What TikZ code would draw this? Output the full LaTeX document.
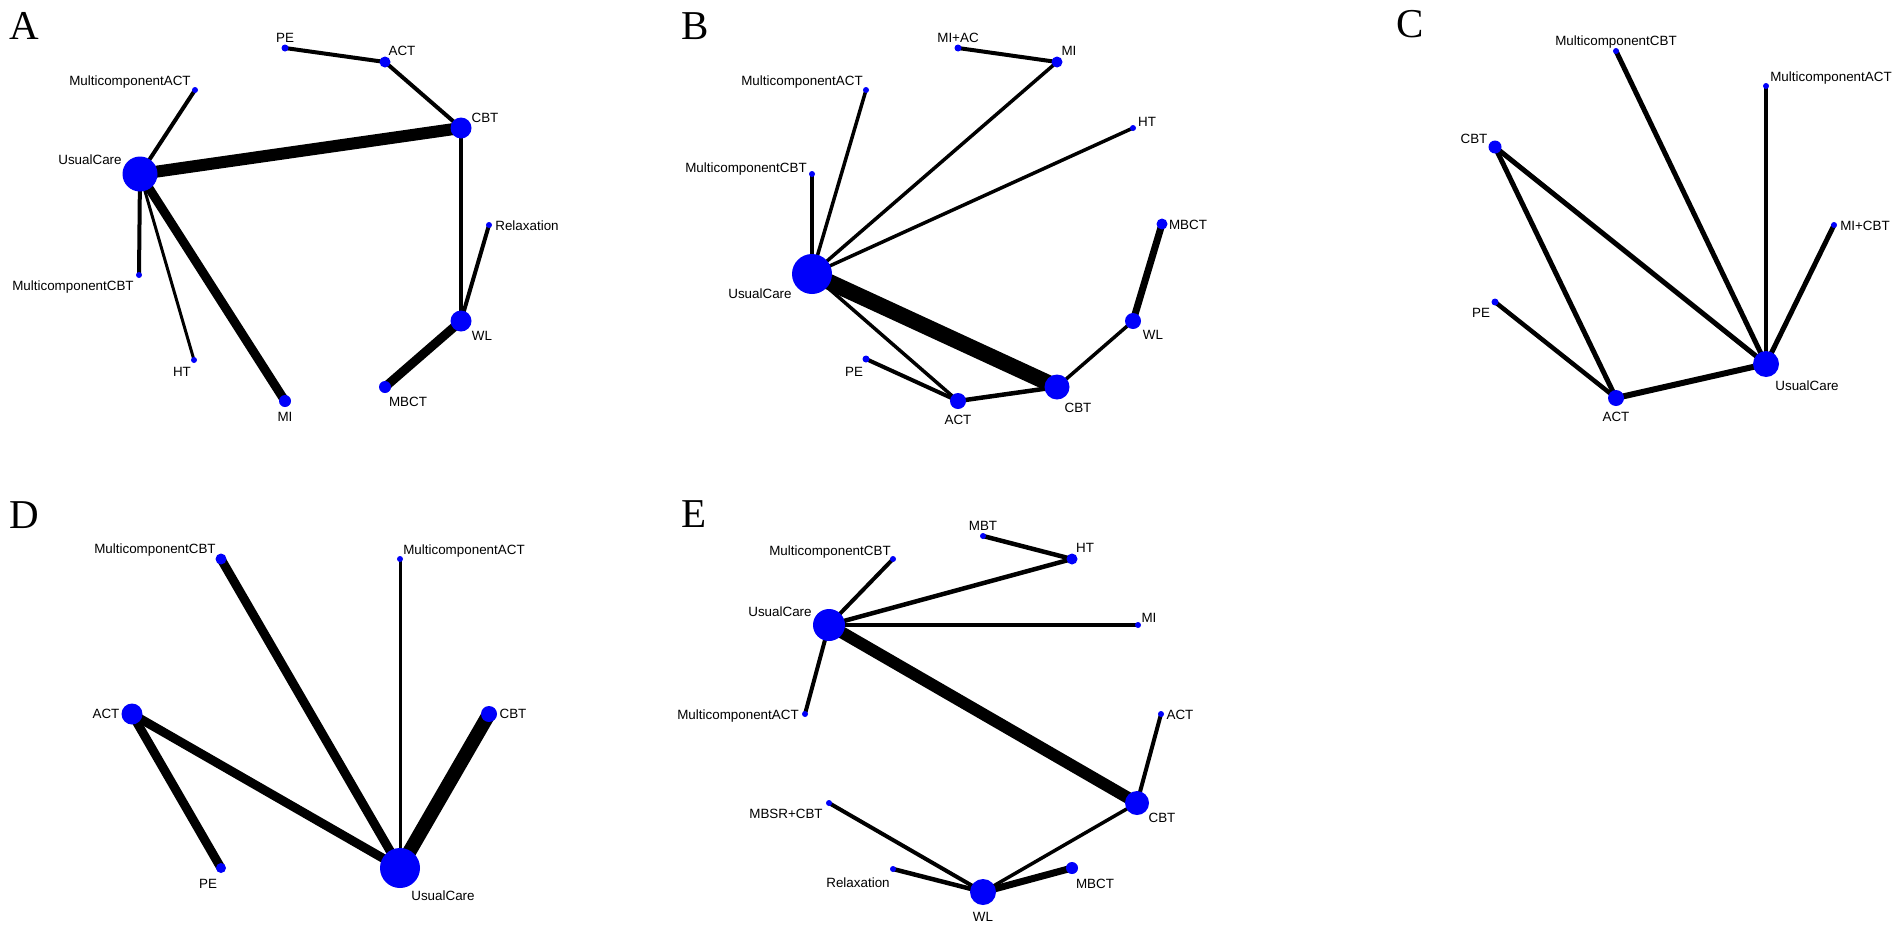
\documentclass[tikz,border=0pt]{standalone}
\usepackage{fontspec}
\setmainfont{Liberation Sans}
\newfontfamily\panelfont{Liberation Serif}
\definecolor{netblue}{RGB}{0,0,250}
\pgfdeclarelayer{bg}
\pgfsetlayers{bg,main}
\tikzset{
  dot/.style={circle, fill=netblue, draw=none, inner sep=0pt, minimum size=#1},
  lab/.style={font=\fontsize{13.4}{14}\selectfont, text height=9.6pt, text depth=0pt, inner sep=0pt, anchor=center},
  panel/.style={font=\panelfont\fontsize{41}{41}\selectfont, text height=27.5pt, text depth=0pt, inner sep=0pt, anchor=center},
  edge/.style={line width=#1, black, line cap=butt},
}
\begin{document}
\begin{tikzpicture}[x=1pt,y=-1pt]
\useasboundingbox (0,0) rectangle (1902,932);
\begin{pgfonlayer}{bg}
\fill[white] (0,0) rectangle (1902,932);
\end{pgfonlayer}

% ================= Panel A =================
\node[panel] (A-title) at (24.5,25.5) {A};
\node[dot=7]  (A-PE)   at (285,48) {};
\node[dot=11] (A-ACT)  at (385,62) {};
\node[dot=6]  (A-MACT) at (195,90) {};
\node[dot=21] (A-CBT)  at (461,128) {};
\node[dot=35] (A-UC)   at (140,174) {};
\node[dot=6]  (A-REL)  at (489,225) {};
\node[dot=6]  (A-MCBT) at (139,275) {};
\node[dot=21] (A-WL)   at (461,321) {};
\node[dot=6]  (A-HT)   at (194,360) {};
\node[dot=12] (A-MBCT) at (385,387) {};
\node[dot=12] (A-MI)   at (285,401) {};
\node[lab] (A-PE-l)   at (285,38)  {PE};
\node[lab] (A-ACT-l)  at (402,51)  {ACT};
\node[lab] (A-MACT-l) at (130,81)  {MulticomponentACT};
\node[lab] (A-CBT-l)  at (485,118) {CBT};
\node[lab] (A-UC-l)   at (90,160)  {UsualCare};
\node[lab] (A-REL-l)  at (527,226) {Relaxation};
\node[lab] (A-MCBT-l) at (73,286)  {MulticomponentCBT};
\node[lab] (A-WL-l)   at (482,336) {WL};
\node[lab] (A-HT-l)   at (182,372) {HT};
\node[lab] (A-MBCT-l) at (408,402) {MBCT};
\node[lab] (A-MI-l)   at (285,417) {MI};
\begin{pgfonlayer}{bg}
\draw[edge=4]  (A-PE.center) -- (A-ACT.center);
\draw[edge=4]  (A-ACT.center) -- (A-CBT.center);
\draw[edge=4]  (A-UC.center) -- (A-MACT.center);
\draw[edge=12] (A-UC.center) -- (A-CBT.center);
\draw[edge=4]  (A-CBT.center) -- (A-WL.center);
\draw[edge=4]  (A-REL.center) -- (A-WL.center);
\draw[edge=4]  (A-UC.center) -- (A-MCBT.center);
\draw[edge=3]  (A-UC.center) -- (A-HT.center);
\draw[edge=9]  (A-UC.center) -- (A-MI.center);
\draw[edge=9]  (A-WL.center) -- (A-MBCT.center);
\end{pgfonlayer}

% ================= Panel B =================
\node[panel] (B-title) at (695,25.5) {B};
\node[dot=7]  (B-MIAC) at (958,48) {};
\node[dot=11] (B-MI)   at (1057,62) {};
\node[dot=6]  (B-MACT) at (866,90) {};
\node[dot=6]  (B-HT)   at (1133,128) {};
\node[dot=6]  (B-MCBT) at (812,174) {};
\node[dot=40] (B-UC)   at (812,274) {};
\node[dot=11] (B-MBCT) at (1162,224) {};
\node[dot=16] (B-WL)   at (1133,321) {};
\node[dot=7]  (B-PE)   at (866,359) {};
\node[dot=25] (B-CBT)  at (1057,387) {};
\node[dot=16] (B-ACT)  at (958,401) {};
\node[lab] (B-MIAC-l) at (958,38)   {MI+AC};
\node[lab] (B-MI-l)   at (1069,51)  {MI};
\node[lab] (B-MACT-l) at (802,81)   {MulticomponentACT};
\node[lab] (B-HT-l)   at (1147,122) {HT};
\node[lab] (B-MCBT-l) at (746,168)  {MulticomponentCBT};
\node[lab] (B-MBCT-l) at (1188,225) {MBCT};
\node[lab] (B-UC-l)   at (760,294)  {UsualCare};
\node[lab] (B-WL-l)   at (1153,335) {WL};
\node[lab] (B-PE-l)   at (854,372)  {PE};
\node[lab] (B-CBT-l)  at (1078,408) {CBT};
\node[lab] (B-ACT-l)  at (958,420)  {ACT};
\begin{pgfonlayer}{bg}
\draw[edge=4]   (B-MIAC.center) -- (B-MI.center);
\draw[edge=3.5] (B-MI.center) -- (B-UC.center);
\draw[edge=3.5] (B-MACT.center) -- (B-UC.center);
\draw[edge=3.5] (B-HT.center) -- (B-UC.center);
\draw[edge=3.5] (B-MCBT.center) -- (B-UC.center);
\draw[edge=7]   (B-MBCT.center) -- (B-WL.center);
\draw[edge=3.5] (B-WL.center) -- (B-CBT.center);
\draw[edge=16]  (B-UC.center) -- (B-CBT.center);
\draw[edge=3.5] (B-UC.center) -- (B-ACT.center);
\draw[edge=4]   (B-PE.center) -- (B-ACT.center);
\draw[edge=4.5] (B-ACT.center) -- (B-CBT.center);
\end{pgfonlayer}

% ================= Panel C =================
\node[panel] (C-title) at (1410,24) {C};
\node[dot=6]  (C-MCBT) at (1616,51) {};
\node[dot=6]  (C-MACT) at (1766,86) {};
\node[dot=13] (C-CBT)  at (1495,147) {};
\node[dot=6]  (C-MICBT) at (1834,225) {};
\node[dot=7]  (C-PE)   at (1495,302) {};
\node[dot=26] (C-UC)   at (1766,364) {};
\node[dot=16] (C-ACT)  at (1616,398) {};
\node[lab] (C-MCBT-l) at (1616,41)  {MulticomponentCBT};
\node[lab] (C-MACT-l) at (1831,77)  {MulticomponentACT};
\node[lab] (C-CBT-l)  at (1474,139) {CBT};
\node[lab] (C-MICBT-l) at (1865,226) {MI+CBT};
\node[lab] (C-PE-l)   at (1481,313) {PE};
\node[lab] (C-UC-l)   at (1807,386) {UsualCare};
\node[lab] (C-ACT-l)  at (1616,417) {ACT};
\begin{pgfonlayer}{bg}
\draw[edge=5]   (C-CBT.center) -- (C-ACT.center);
\draw[edge=5]   (C-CBT.center) -- (C-UC.center);
\draw[edge=5]   (C-MCBT.center) -- (C-UC.center);
\draw[edge=4.5] (C-MACT.center) -- (C-UC.center);
\draw[edge=5]   (C-MICBT.center) -- (C-UC.center);
\draw[edge=4.5] (C-PE.center) -- (C-ACT.center);
\draw[edge=6]   (C-ACT.center) -- (C-UC.center);
\end{pgfonlayer}

% ================= Panel D =================
\node[panel] (D-title) at (24,515) {D};
\node[dot=11] (D-MCBT) at (221,559) {};
\node[dot=6]  (D-MACT) at (400,559) {};
\node[dot=21] (D-ACT)  at (132,714) {};
\node[dot=16] (D-CBT)  at (489,714) {};
\node[dot=10] (D-PE)   at (221,868) {};
\node[dot=40] (D-UC)   at (400,868) {};
\node[lab] (D-MCBT-l) at (155,549) {MulticomponentCBT};
\node[lab] (D-MACT-l) at (464,550) {MulticomponentACT};
\node[lab] (D-ACT-l)  at (106,714) {ACT};
\node[lab] (D-CBT-l)  at (513,714) {CBT};
\node[lab] (D-PE-l)   at (208,884) {PE};
\node[lab] (D-UC-l)   at (443,896) {UsualCare};
\begin{pgfonlayer}{bg}
\draw[edge=9]  (D-MCBT.center) -- (D-UC.center);
\draw[edge=3]  (D-MACT.center) -- (D-UC.center);
\draw[edge=9]  (D-ACT.center) -- (D-UC.center);
\draw[edge=9]  (D-ACT.center) -- (D-PE.center);
\draw[edge=14] (D-CBT.center) -- (D-UC.center);
\end{pgfonlayer}

% ================= Panel E =================
\node[panel] (E-title) at (694,514) {E};
\node[dot=6]  (E-MBT)  at (983,536) {};
\node[dot=11] (E-HT)   at (1072,559) {};
\node[dot=6]  (E-MCBT) at (893,559) {};
\node[dot=32] (E-UC)   at (829,625) {};
\node[dot=6]  (E-MI)   at (1138,625) {};
\node[dot=6]  (E-MACT) at (805,714) {};
\node[dot=6]  (E-ACT)  at (1161,714) {};
\node[dot=24] (E-CBT)  at (1137,803) {};
\node[dot=6]  (E-MBSR) at (829,803) {};
\node[dot=6]  (E-REL)  at (893,869) {};
\node[dot=12] (E-MBCT) at (1072,868) {};
\node[dot=26] (E-WL)   at (983,892) {};
\node[lab] (E-MBT-l)  at (983,526)  {MBT};
\node[lab] (E-HT-l)   at (1085,548) {HT};
\node[lab] (E-MCBT-l) at (830,551)  {MulticomponentCBT};
\node[lab] (E-UC-l)   at (780,612)  {UsualCare};
\node[lab] (E-MI-l)   at (1149,618) {MI};
\node[lab] (E-MACT-l) at (738,715)  {MulticomponentACT};
\node[lab] (E-ACT-l)  at (1180,715) {ACT};
\node[lab] (E-MBSR-l) at (786,814)  {MBSR+CBT};
\node[lab] (E-CBT-l)  at (1162,818) {CBT};
\node[lab] (E-REL-l)  at (858,883)  {Relaxation};
\node[lab] (E-MBCT-l) at (1095,884) {MBCT};
\node[lab] (E-WL-l)   at (983,917)  {WL};
\begin{pgfonlayer}{bg}
\draw[edge=4.5] (E-MBT.center) -- (E-HT.center);
\draw[edge=4.5] (E-HT.center) -- (E-UC.center);
\draw[edge=4]   (E-MCBT.center) -- (E-UC.center);
\draw[edge=4.5] (E-UC.center) -- (E-MI.center);
\draw[edge=4]   (E-UC.center) -- (E-MACT.center);
\draw[edge=12]  (E-UC.center) -- (E-CBT.center);
\draw[edge=4]   (E-ACT.center) -- (E-CBT.center);
\draw[edge=3.5] (E-CBT.center) -- (E-WL.center);
\draw[edge=4]   (E-MBSR.center) -- (E-WL.center);
\draw[edge=4.5] (E-REL.center) -- (E-WL.center);
\draw[edge=7]   (E-MBCT.center) -- (E-WL.center);
\end{pgfonlayer}
\end{tikzpicture}
\end{document}
